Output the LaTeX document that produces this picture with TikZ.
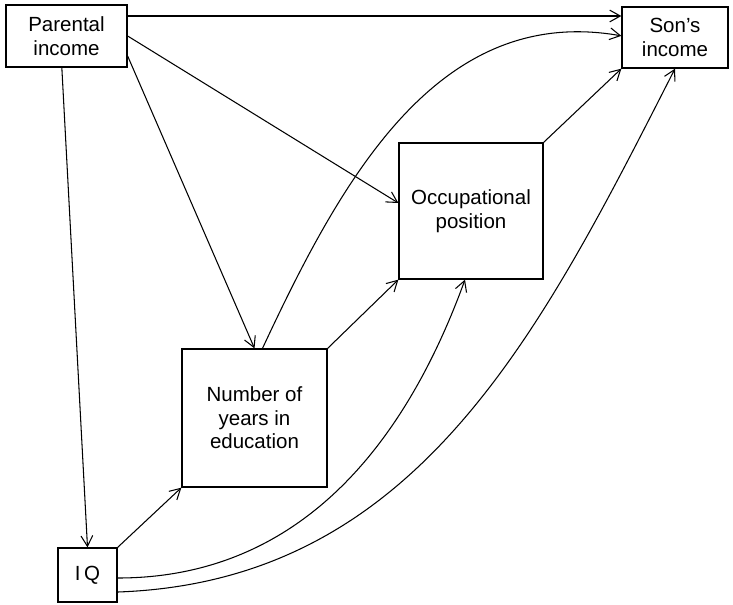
\documentclass[tikz,border=0pt]{standalone}
\usepackage{fontspec}
\setmainfont{Liberation Sans}
\usetikzlibrary{arrows.meta}

\tikzset{
	box/.style={draw, line width=1.1pt, align=center, inner sep=2pt,
		font=\fontsize{17.5}{20}\selectfont},
	arr/.style={line width=0.9pt, -{Straight Barb[length=9pt,width=10pt]}},
}

\begin{document}
\begin{tikzpicture}[x=0.03cm, y=-0.03cm]
			\useasboundingbox (0,0) rectangle (733,604);
			\node[box, minimum width=3.63cm, minimum height=1.86cm] (par) at (66.5,36) {Parental\\income};
			\node[box, minimum width=3.18cm, minimum height=1.83cm] (son) at (675,37.5) {Son's\\income};
			\node[box, minimum width=4.32cm, minimum height=4.08cm] (occ) at (471,211) {Occupational\\position};
			\node[box, minimum width=4.35cm, minimum height=4.14cm] (edu) at (254.5,418) {Number of\\years in\\education};
			\node[box, minimum width=1.77cm, minimum height=1.62cm] (iq) at (87.5,575) {I\,Q};
			% straight arrows
			\draw[arr] ([yshift=0.6cm]par.east) -- ([yshift=0.6cm]par.east -| son.west);
			\draw[arr] (par.east) -- ([yshift=0.24cm]occ.west);
			\draw[arr] ([yshift=-0.6cm]par.east) -- (edu.north);
			\draw[arr] ([xshift=-0.14cm]par.south) -- (iq.north);
			\draw[arr] (iq.north east) -- (edu.south west);
			\draw[arr] (edu.north east) -- (occ.south west);
			\draw[arr] (occ.north east) -- (son.south west);
			% curved arrows
			\draw[arr] ([xshift=0.24cm]edu.north) to[out=65, in=170] ([yshift=0.05cm]son.west);
			\draw[arr] ([yshift=-0.09cm]iq.east) to[out=0, in=-110] ([xshift=-0.18cm]occ.south);
			\draw[arr] ([yshift=-0.51cm]iq.east) to[out=2, in=-117] (son.south);
\end{tikzpicture}
\end{document}
